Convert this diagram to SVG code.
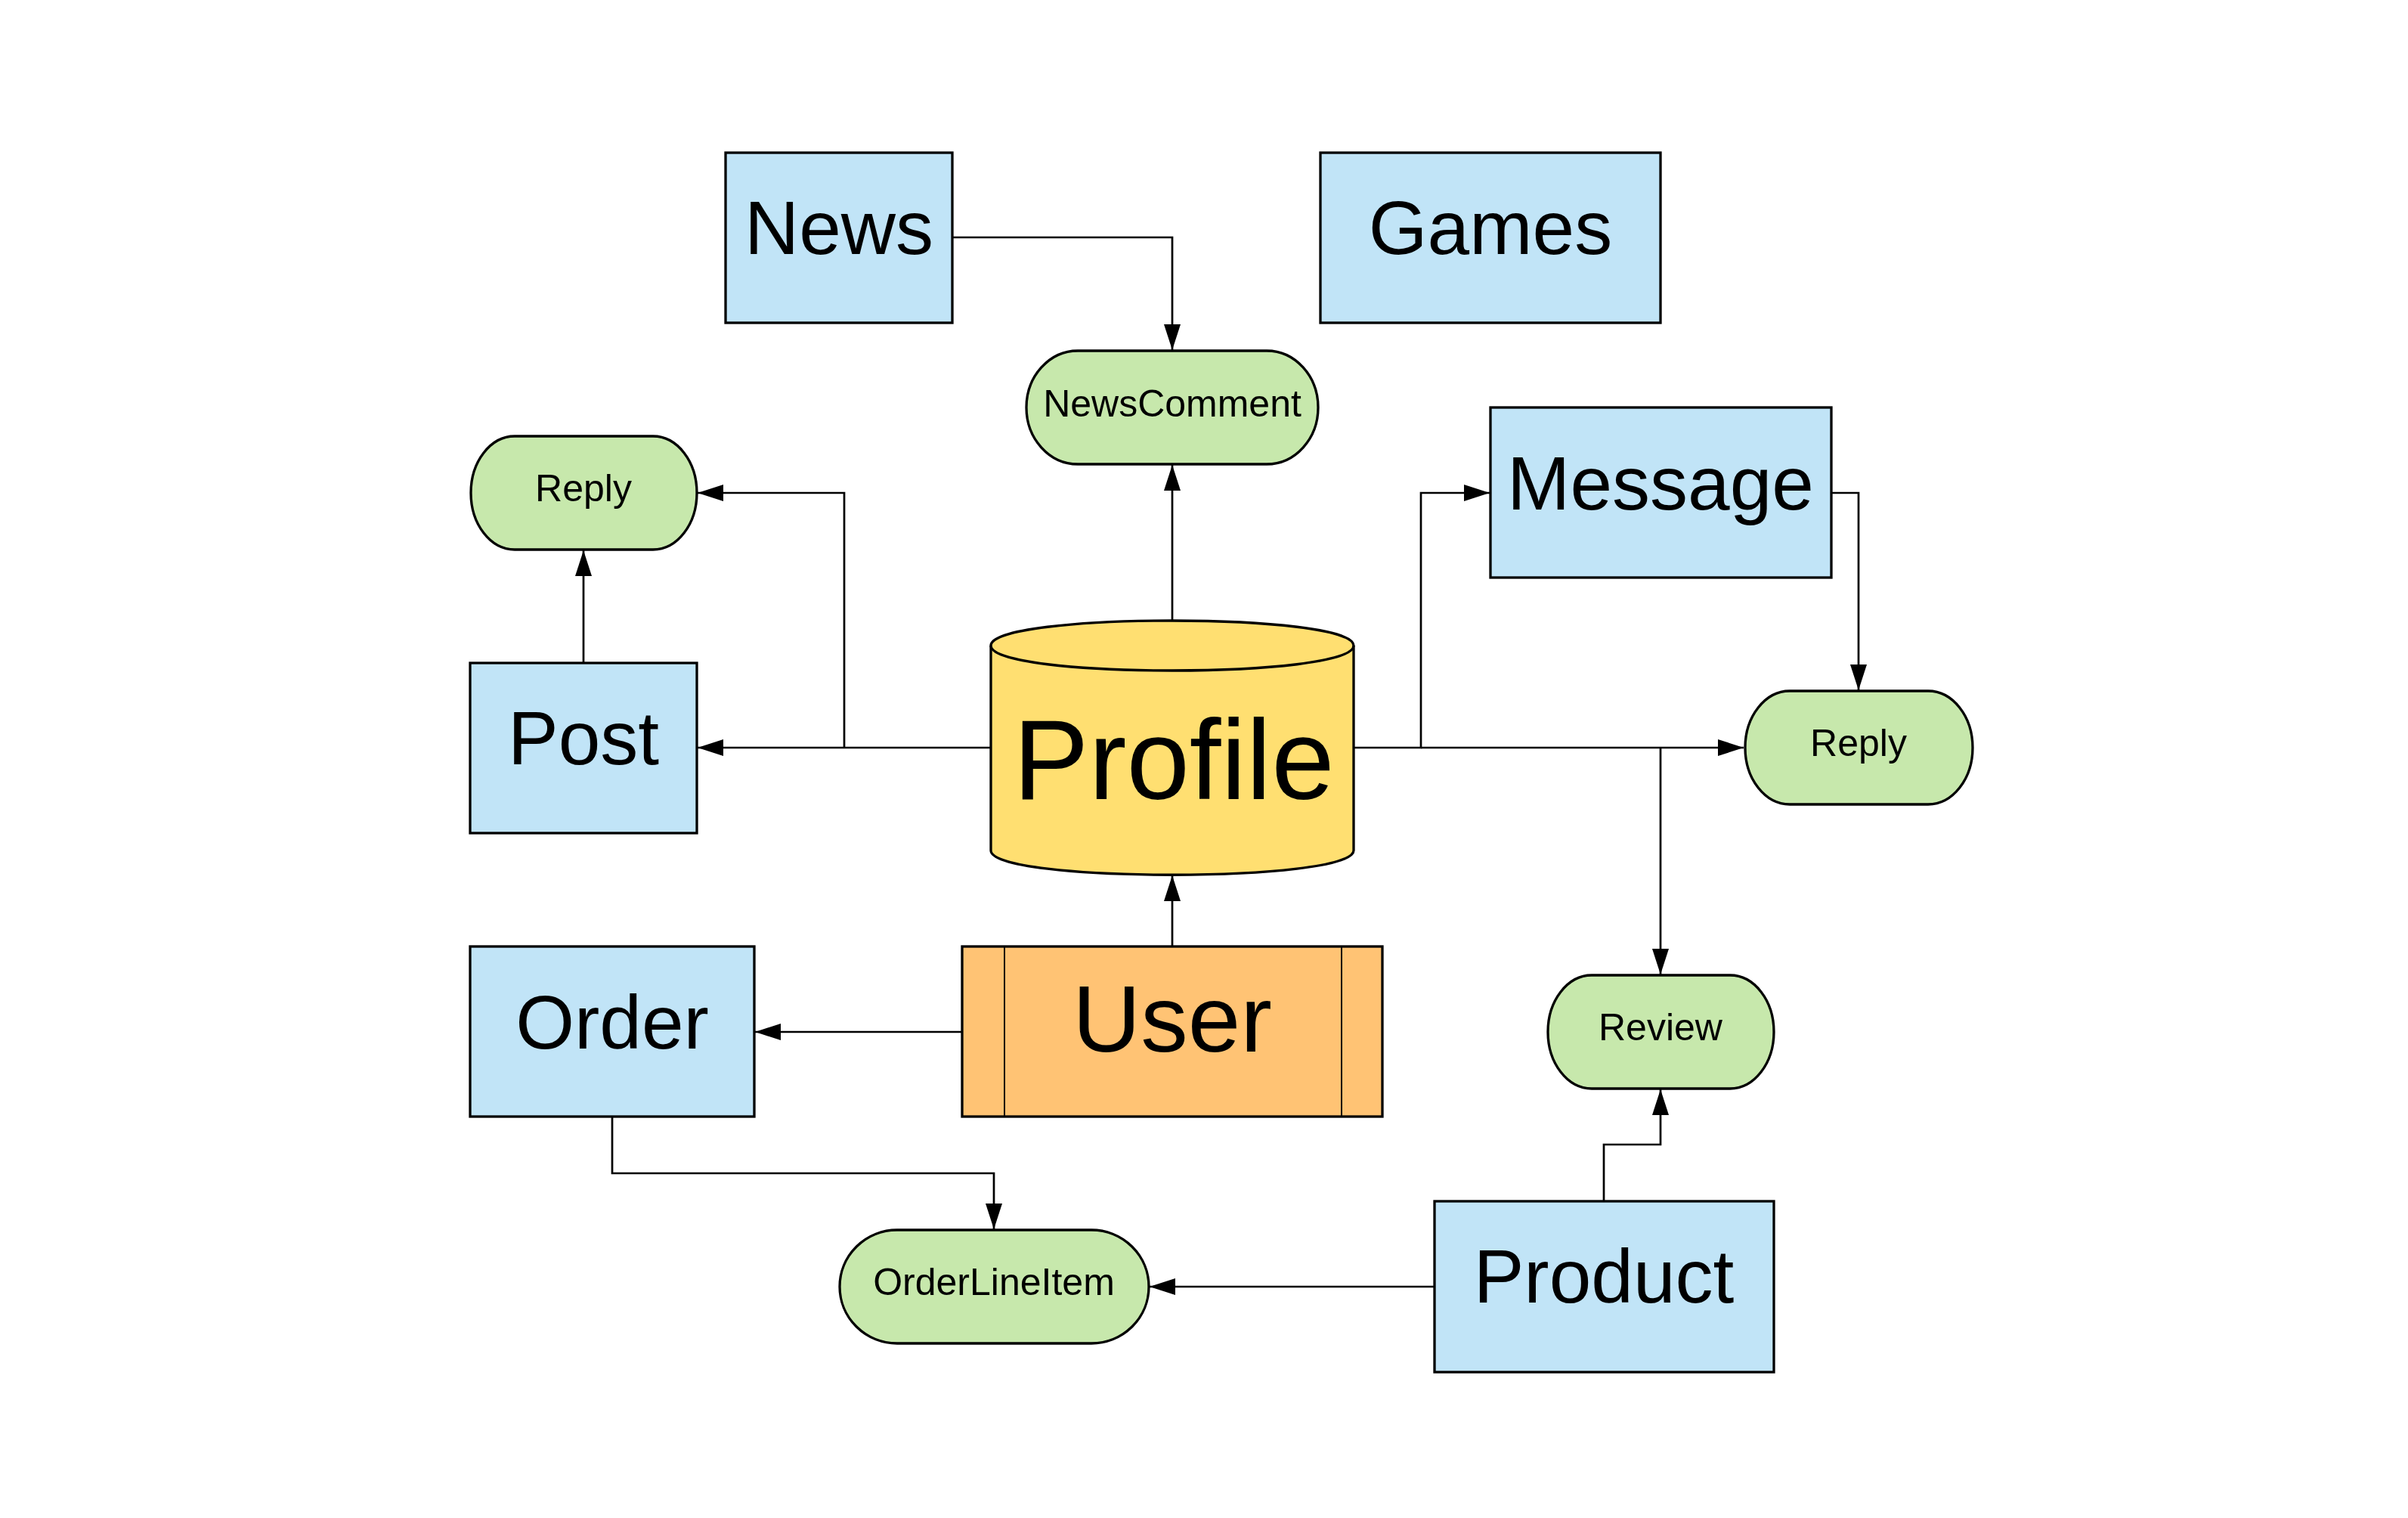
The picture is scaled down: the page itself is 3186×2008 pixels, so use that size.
<svg xmlns="http://www.w3.org/2000/svg" width="3186" height="2008" viewBox="0 0 3186 2008">
  <style>
    .box { stroke: #000; stroke-width: 3.3; }
    .blue { fill: #C1E4F7; }
    .green { fill: #C7E8AC; }
    .yellow { fill: #FFDF71; }
    .orange { fill: #FFC374; }
    .lbl { font-family: "Liberation Sans", Arial, sans-serif; fill: #000; text-anchor: middle; }
    .big { font-size: 100px; }
    .small { font-size: 50px; }
    .conn { fill: none; stroke: #000; stroke-width: 2.7; marker-end: url(#arr); }
    .plain { fill: none; stroke: #000; stroke-width: 2.7; }
  </style>
  <defs>
    <marker id="arr" viewBox="0 0 34 22" refX="34" refY="11" markerWidth="34" markerHeight="22" markerUnits="userSpaceOnUse" orient="auto">
      <path d="M0,0 L34,11 L0,22 Z" fill="#000"/>
    </marker>
  </defs>
  <rect width="3186" height="2008" fill="#fff"/>

  <g id="connectors">
    <path class="conn" d="M1260,314 H1551 V463"/>
    <path class="conn" d="M1551,821 V615"/>
    <path class="conn" d="M1311,989 H923"/>
    <path class="conn" d="M1117,989 V652 H923"/>
    <path class="conn" d="M772,877 V728"/>
    <path class="conn" d="M1791,989 H1880 V652 H1971"/>
    <path class="conn" d="M1880,989 H2307"/>
    <path class="conn" d="M2197,989 V1289"/>
    <path class="conn" d="M2423,652 H2459 V913"/>
    <path class="conn" d="M1551,1252 V1158"/>
    <path class="conn" d="M1273,1365 H999"/>
    <path class="conn" d="M810,1477 V1552 H1315 V1626"/>
    <path class="conn" d="M1898,1702 H1521"/>
    <path class="conn" d="M2122,1589 V1514 H2197 V1441"/>
  </g>

  <g id="news">
    <rect class="box blue" x="960" y="202" width="300" height="225"/>
    <text class="lbl big" x="1110" y="336">News</text>
  </g>
  <g id="games">
    <rect class="box blue" x="1747" y="202" width="450" height="225"/>
    <text class="lbl big" x="1972" y="336">Games</text>
  </g>
  <g id="newscomment">
    <rect class="box green" x="1358" y="464" width="386" height="150" rx="68" ry="75"/>
    <text class="lbl small" x="1551" y="551">NewsComment</text>
  </g>
  <g id="reply-left">
    <rect class="box green" x="623" y="577" width="299" height="150" rx="58" ry="75"/>
    <text class="lbl small" x="772" y="663">Reply</text>
  </g>
  <g id="post">
    <rect class="box blue" x="622" y="877" width="300" height="225"/>
    <text class="lbl big" x="772" y="1011">Post</text>
  </g>
  <g id="profile">
    <path class="box yellow" d="M1311,854 C1311,810 1791,810 1791,854 V1125 C1791,1168 1311,1168 1311,1125 Z"/>
    <path class="plain" style="stroke-width:3.3" d="M1311,854 C1311,898 1791,898 1791,854"/>
    <text class="lbl" style="font-size:150px" x="1553" y="1057">Profile</text>
  </g>
  <g id="message">
    <rect class="box blue" x="1972" y="539" width="451" height="225"/>
    <text class="lbl big" x="2197" y="674">Message</text>
  </g>
  <g id="reply-right">
    <rect class="box green" x="2309" y="914" width="301" height="150" rx="59" ry="75"/>
    <text class="lbl small" x="2459" y="1000">Reply</text>
  </g>
  <g id="review">
    <rect class="box green" x="2048" y="1290" width="299" height="150" rx="58" ry="75"/>
    <text class="lbl small" x="2197" y="1376">Review</text>
  </g>
  <g id="order">
    <rect class="box blue" x="622" y="1252" width="376" height="225"/>
    <text class="lbl big" x="810" y="1387">Order</text>
  </g>
  <g id="user">
    <rect class="box orange" x="1273" y="1252" width="556" height="225"/>
    <line x1="1329" y1="1252" x2="1329" y2="1477" stroke="#000" stroke-width="2"/>
    <line x1="1775" y1="1252" x2="1775" y2="1477" stroke="#000" stroke-width="2"/>
    <text class="lbl" style="font-size:125px" x="1551" y="1391">User</text>
  </g>
  <g id="orderlineitem">
    <rect class="box green" x="1111" y="1627" width="409" height="150" rx="76" ry="75"/>
    <text class="lbl small" x="1315" y="1713">OrderLineItem</text>
  </g>
  <g id="product">
    <rect class="box blue" x="1898" y="1589" width="449" height="226"/>
    <text class="lbl big" x="2122" y="1723">Product</text>
  </g>
</svg>
